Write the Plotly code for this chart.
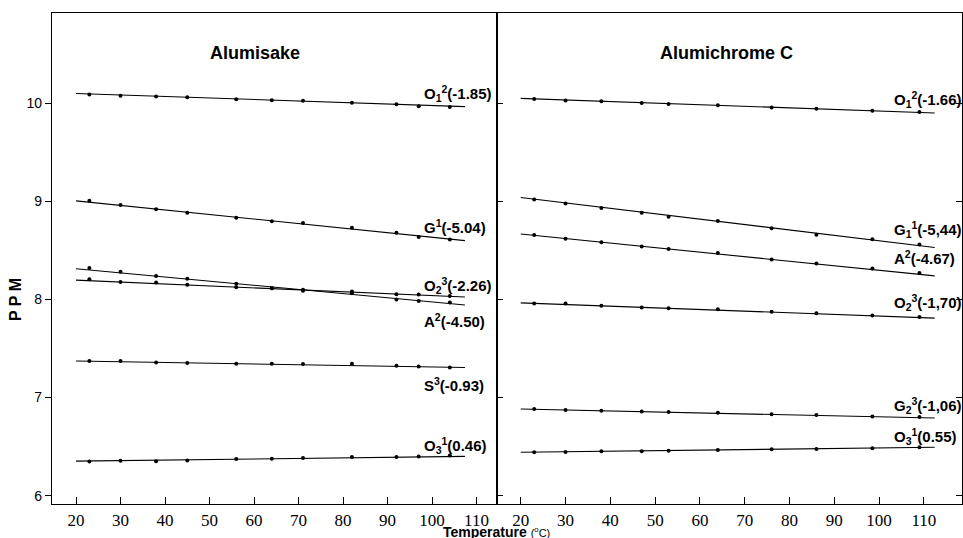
import plotly.graph_objects as go

# ---------------- data ----------------
PANELS = ["Alumisake", "Alumichrome C"]
X_TICKS = [20, 30, 40, 50, 60, 70, 80, 90, 100, 110]
Y_TICKS = [6, 7, 8, 9, 10]

# Alumisake (left panel)
LEFT_T = [23, 30, 38, 45, 56, 64, 71, 82, 92, 97, 104]
LEFT_FIT_T = [20, 107.4]
LEFT_LABELS = ["O<sub>1</sub><sup>2</sup>(-1.85)", "G<sup>1</sup>(-5.04)",
               "O<sub>2</sub><sup>3</sup>(-2.26)", "A<sup>2</sup>(-4.50)",
               "S<sup>3</sup>(-0.93)", "O<sub>3</sub><sup>1</sup>(0.46)"]
L_O12 = [10.09, 10.076, 10.07, 10.06, 10.04, 10.03, 10.025, 10.004, 9.99, 9.97, 9.963]
L_G1 = [9.005, 8.964, 8.92, 8.885, 8.834, 8.796, 8.779, 8.73, 8.68, 8.636, 8.61]
L_O23 = [8.207, 8.177, 8.173, 8.149, 8.125, 8.115, 8.10, 8.08, 8.053, 8.05, 8.035]
L_A2 = [8.32, 8.282, 8.238, 8.21, 8.159, 8.115, 8.09, 8.064, 8.00, 7.985, 7.968]
L_S3 = [7.373, 7.373, 7.358, 7.352, 7.345, 7.345, 7.342, 7.345, 7.324, 7.317, 7.307]
L_O31 = [6.349, 6.356, 6.352, 6.359, 6.373, 6.377, 6.383, 6.393, 6.393, 6.40, 6.41]
L_FITS = [[10.10, 9.966], [9.005, 8.60], [8.197, 8.025], [8.313, 7.944],
          [7.373, 7.307], [6.352, 6.40]]

# Alumichrome C (right panel)
RIGHT_T = [23, 30, 38, 47, 53, 64, 76, 86, 98.5, 109]
RIGHT_FIT_T = [20, 112.4]
RIGHT_LABELS = ["O<sub>1</sub><sup>2</sup>(-1.66)", "G<sub>1</sub><sup>1</sup>(-5,44)",
                "A<sup>2</sup>(-4.67)", "O<sub>2</sub><sup>3</sup>(-1,70)",
                "G<sub>2</sub><sup>3</sup>(-1,06)", "O<sub>3</sub><sup>1</sup>(0.55)"]
R_O12 = [10.043, 10.027, 10.02, 10.003, 9.993, 9.98, 9.957, 9.943, 9.923, 9.91]
R_G1 = [9.02, 8.977, 8.932, 8.885, 8.844, 8.80, 8.725, 8.66, 8.613, 8.56]
R_A2 = [8.657, 8.62, 8.583, 8.539, 8.515, 8.474, 8.407, 8.366, 8.315, 8.27]
R_O23 = [7.96, 7.96, 7.935, 7.918, 7.911, 7.90, 7.874, 7.86, 7.837, 7.82]
R_G23 = [6.883, 6.873, 6.866, 6.859, 6.852, 6.845, 6.829, 6.822, 6.808, 6.801]
R_O31 = [6.442, 6.445, 6.452, 6.452, 6.458, 6.465, 6.472, 6.476, 6.483, 6.493]
R_FITS = [[10.05, 9.90], [9.04, 8.529], [8.667, 8.24], [7.965, 7.81],
          [6.883, 6.791], [6.442, 6.493]]

# ---------------- styling ----------------
LABEL_FONT = dict(family="Liberation Sans", size=15, color="black")
LEFT_LABEL_YSHIFT = [13, 14, 12, -16, -17, 11]
RIGHT_LABEL_YSHIFT = [14, 18, 18, 16, 13, 11]
LABEL_XSHIFT = -43

fig = go.Figure()

left_series = [L_O12, L_G1, L_O23, L_A2, L_S3, L_O31]
right_series = [R_O12, R_G1, R_A2, R_O23, R_G23, R_O31]

annotations = []
for (ts, fit_t, series, fits, labels, shifts, xa, ya) in [
    (LEFT_T, LEFT_FIT_T, left_series, L_FITS, LEFT_LABELS, LEFT_LABEL_YSHIFT, "x", "y"),
    (RIGHT_T, RIGHT_FIT_T, right_series, R_FITS, RIGHT_LABELS, RIGHT_LABEL_YSHIFT, "x2", "y2"),
]:
    for vals, fit, lab, ys in zip(series, fits, labels, shifts):
        fig.add_trace(go.Scatter(x=fit_t, y=fit, mode="lines", xaxis=xa, yaxis=ya,
                                 line=dict(color="black", width=1.1),
                                 showlegend=False, hoverinfo="skip"))
        fig.add_trace(go.Scatter(x=ts, y=vals, mode="markers", xaxis=xa, yaxis=ya,
                                 marker=dict(color="black", size=4),
                                 showlegend=False))
        annotations.append(dict(x=fit_t[1], y=fit[1], xref=xa, yref=ya,
                                text="<b>" + lab + "</b>", showarrow=False,
                                xanchor="left", yanchor="middle",
                                xshift=LABEL_XSHIFT, yshift=ys, font=LABEL_FONT))

D = (497 - 52) / 910
Y_RANGE = [5.915, 10.92]
tick_font_x = dict(family="Liberation Sans Narrow", size=17, color="black")
tick_font_y = dict(family="Liberation Sans", size=14, color="black")

common_x = dict(tickvals=X_TICKS, ticks="inside", ticklen=7, tickwidth=1, tickcolor="black",
                showline=True, linecolor="black", linewidth=1.2, mirror=True,
                showgrid=False, zeroline=False, tickfont=tick_font_x)

fig.update_layout(
    width=963, height=538,
    margin=dict(l=52, r=1, t=13, b=34),
    paper_bgcolor="white", plot_bgcolor="white",
    showlegend=False,
    xaxis=dict(domain=[0, D], range=[14.6, 114.6], anchor="y", **common_x),
    xaxis2=dict(domain=[D, 1], range=[14.7, 118.5], anchor="y2", **common_x),
    yaxis=dict(domain=[0, 1], range=Y_RANGE, anchor="x", tickvals=Y_TICKS,
               ticks="outside", ticklen=6, tickcolor="black", showline=True,
               linecolor="black", linewidth=1.2, mirror=True, showgrid=False,
               zeroline=False, tickfont=tick_font_y),
    yaxis3=dict(overlaying="y", anchor="x", side="left", range=Y_RANGE, tickvals=Y_TICKS,
                ticks="inside", ticklen=6, tickcolor="black", showticklabels=False,
                showline=False, showgrid=False, zeroline=False),
    yaxis2=dict(domain=[0, 1], range=Y_RANGE, anchor="x2", tickvals=Y_TICKS,
                ticks="inside", ticklen=6, tickcolor="black", showline=True,
                linecolor="black", linewidth=1.2, mirror="ticks", showgrid=False,
                zeroline=False, showticklabels=False),
    yaxis4=dict(overlaying="y2", anchor="x2", side="left", range=Y_RANGE, tickvals=Y_TICKS,
                ticks="outside", ticklen=6, tickcolor="black", showticklabels=False,
                showline=False, showgrid=False, zeroline=False),
)

# panel titles
TITLE_FONT = dict(family="Liberation Sans", size=18, color="black")
annotations.append(dict(text="<b>" + PANELS[0] + "</b>", x=(255 - 52) / 910, y=1 - (53 - 13) / 491,
                        xref="paper", yref="paper", showarrow=False, xanchor="center",
                        yanchor="middle", font=TITLE_FONT))
annotations.append(dict(text="<b>" + PANELS[1] + "</b>", x=(726.5 - 52) / 910, y=1 - (53 - 13) / 491,
                        xref="paper", yref="paper", showarrow=False, xanchor="center",
                        yanchor="middle", font=TITLE_FONT))
# axis titles
annotations.append(dict(text="<b>P P M</b>", x=0, y=1 - (300 - 13) / 491, xref="paper", yref="paper",
                        xshift=-37, showarrow=False, textangle=-90, xanchor="center",
                        yanchor="middle", font=dict(family="Liberation Sans", size=16, color="black")))
annotations.append(dict(text="<b>Temperature</b> <span style='font-size:11px'>(<sup>o</sup>C)</span>",
                        x=(496 - 52) / 910, y=0, xref="paper", yref="paper", yshift=-28,
                        showarrow=False, xanchor="center", yanchor="middle",
                        font=dict(family="Liberation Sans", size=14, color="black")))

fig.update_layout(annotations=annotations)
fig.write_html("out.html", config={"displayModeBar": False},
               post_script="document.body.style.margin='0px';document.body.style.overflow='hidden';")
